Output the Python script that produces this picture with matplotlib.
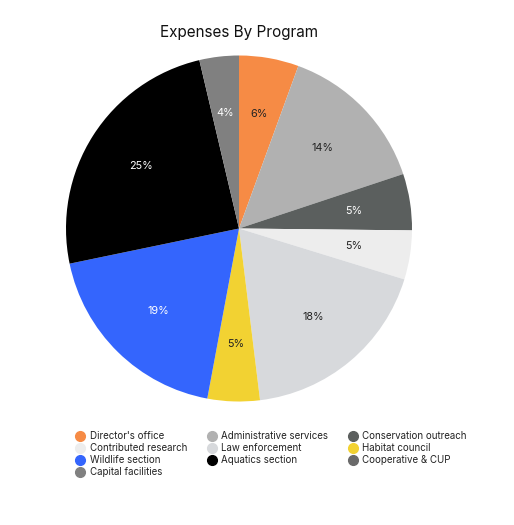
import matplotlib
matplotlib.use("Agg")
from matplotlib import pyplot as plt
from matplotlib.lines import Line2D

programs = ["Director's office", "Administrative services", "Conservation outreach",
            "Contributed research", "Law enforcement", "Habitat council",
            "Wildlife section", "Aquatics section", "Cooperative & CUP",
            "Capital facilities"]
shares = [5.6, 14.4, 5.3, 4.6, 18.4, 4.9, 18.9, 24.7, 0.0, 3.7]
colors = ["#f68b45", "#b1b1b1", "#5b5f5e", "#ededed", "#d7d9dc", "#f2d232",
          "#3465fd", "#000000", "#6a6a6a", "#808080"]
text_colors = ["#222222", "#222222", "white", "#222222", "#222222", "#222222",
               "white", "white", "white", "white"]

plt.rcParams['font.family'] = ['Inter', 'DejaVu Sans']

fig = plt.figure(figsize=(5.14, 5.25), dpi=100)
ax = fig.add_axes([66 / 514, 1 - 401.5 / 525, 346 / 514, 346 / 525])


def pct(p):
    return "%d%%" % round(p) if p > 0.5 else ""


wedges, texts, autotexts = ax.pie(shares, colors=colors, startangle=90, counterclock=False,
                                  autopct=pct, pctdistance=0.67, radius=1,
                                  textprops={'fontsize': 7.8})
for t, c in zip(autotexts, text_colors):
    t.set_color(c)
ax.set_xlim(-1, 1)
ax.set_ylim(-1, 1)
ax.set_aspect('equal')

fig.text(239 / 514, 1 - 33 / 525, "Expenses By Program", ha='center', va='center',
         fontsize=11, color='#111111')

# legend is read row by row, matplotlib fills columns
order = [0, 3, 6, 9, 1, 4, 7, 2, 5, 8]
handles = [Line2D([], [], marker='o', linestyle='', markersize=7, color=colors[i]) for i in order]
labels = [programs[i] for i in order]
fig.legend(handles, labels, ncol=3, loc='upper left', bbox_to_anchor=(75 / 514, 1 - 431 / 525),
           frameon=False, fontsize=7.0, handletextpad=0.4, columnspacing=2.0,
           labelspacing=0.22, handlelength=1.1, borderaxespad=0, borderpad=0,
           labelcolor='#222222')

fig.savefig('out.png', dpi=100)
